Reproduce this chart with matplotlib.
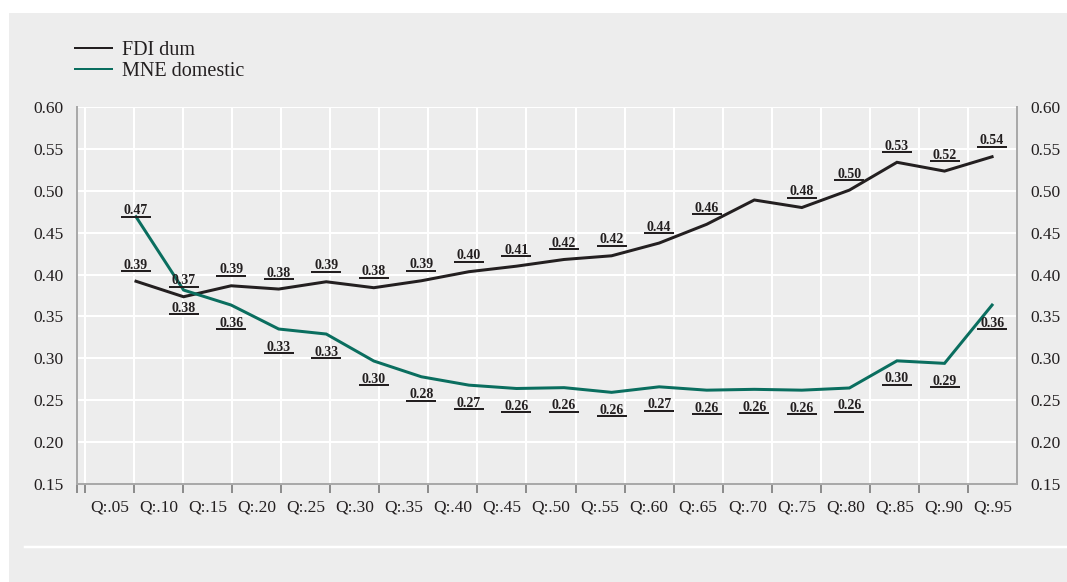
import matplotlib
matplotlib.use('Agg')
import matplotlib.pyplot as plt
from matplotlib.transforms import offset_copy
from matplotlib.patches import Rectangle
from matplotlib.lines import Line2D
import numpy as np

# ---------------- data ----------------
categories = ['Q:.05', 'Q:.10', 'Q:.15', 'Q:.20', 'Q:.25', 'Q:.30', 'Q:.35',
              'Q:.40', 'Q:.45', 'Q:.50', 'Q:.55', 'Q:.60', 'Q:.65', 'Q:.70',
              'Q:.75', 'Q:.80', 'Q:.85', 'Q:.90', 'Q:.95']
fdi_values = [0.392, 0.3735, 0.3866, 0.3827, 0.3914, 0.3843, 0.3926, 0.4034,
              0.410, 0.418, 0.4224, 0.4376, 0.460, 0.489, 0.480, 0.5008,
              0.534, 0.5235, 0.5406]
mne_values = [0.469, 0.3815, 0.3636, 0.335, 0.329, 0.2968, 0.278, 0.268,
              0.264, 0.265, 0.2594, 0.266, 0.262, 0.263, 0.262, 0.2646,
              0.297, 0.294, 0.3636]
fdi_labels = ['0.39', '0.37', '0.39', '0.38', '0.39', '0.38', '0.39', '0.40',
              '0.41', '0.42', '0.42', '0.44', '0.46', '', '0.48', '0.50',
              '0.53', '0.52', '0.54']
mne_labels = ['0.47', '0.38', '0.36', '0.33', '0.33', '0.30', '0.28', '0.27',
              '0.26', '0.26', '0.26', '0.27', '0.26', '0.26', '0.26', '0.26',
              '0.30', '0.29', '0.36']
series_names = ['FDI dum', 'MNE domestic']
y_ticks = [0.15, 0.20, 0.25, 0.30, 0.35, 0.40, 0.45, 0.50, 0.55, 0.60]

# ---------------- style ----------------
W, H = 1067, 582
DPI = 100
PT = 72.0 / DPI  # points per pixel
FONT = 'Liberation Serif'
BG = '#ededed'
DARK = '#231f20'
TEAL = '#0a6e5f'
AXIS = '#a9a9a9'

plt.rcParams['font.family'] = [FONT, 'DejaVu Serif']

fig = plt.figure(figsize=(W / DPI, H / DPI), dpi=DPI, facecolor='white')
fig.patches.append(Rectangle((9 / W, 0), 1 - 9 / W, 1 - 13 / H,
                             transform=fig.transFigure, facecolor=BG,
                             edgecolor='none', zorder=0))
fig.lines.append(Line2D([25 / W, 1], [1 - 547 / H, 1 - 547 / H],
                        transform=fig.transFigure, color='white',
                        lw=2.5 * PT, zorder=1))

rect = [77 / W, 1 - 484 / H, (1017 - 77) / W, (484 - 107) / H]

# category / grid axes
axc = fig.add_axes(rect, zorder=1)
axc.set_facecolor(BG)
n = len(categories)
axc.set_xlim(-0.663, n - 0.5)
axc.set_ylim(y_ticks[0], y_ticks[-1])
axc.set_xticks(np.arange(n))
axc.set_xticklabels(categories)
axc.set_xticks(np.concatenate([[-0.663], np.arange(-0.5, n - 0.5, 1)]), minor=True)
axc.tick_params(axis='x', which='major', length=0, pad=15 * PT,
                labelsize=12.5, labelcolor=DARK)
axc.tick_params(axis='x', which='minor', length=9 * PT, width=1.5 * PT,
                color='#6e6e6e', direction='out')
axc.set_yticks(y_ticks)
axc.set_yticklabels([f'{v:.2f}' for v in y_ticks])
axc.tick_params(axis='y', length=0, labelsize=12.5, labelcolor=DARK,
                left=False, right=False, labelleft=True, labelright=True,
                pad=13 * PT)
axc.grid(True, axis='y', color='white', lw=2 * PT)
axc.grid(True, axis='x', which='minor', color='white', lw=2 * PT)
axc.set_axisbelow(True)
for side in ['left', 'right', 'bottom']:
    axc.spines[side].set_color(AXIS)
    axc.spines[side].set_linewidth(2 * PT)
axc.spines['top'].set_visible(False)

# data axes
ax = fig.add_axes(rect, zorder=2)
ax.set_facecolor('none')
ax.set_xlim(-1.2405, 18.524)
ax.set_ylim(y_ticks[0], y_ticks[-1])
ax.axis('off')

x = np.arange(n)
ax.plot(x, fdi_values, color=DARK, lw=3 * PT, solid_joinstyle='miter')
ax.plot(x, mne_values, color=TEAL, lw=3 * PT, solid_joinstyle='miter')

LABEL_FS = 10


def put_label(i, v, s, text_off, line_off):
    if not s:
        return
    ax.annotate(s, (i, v), xytext=(0, text_off * PT), textcoords='offset points',
                ha='center', va='baseline', fontsize=LABEL_FS, fontweight='bold',
                color=DARK, clip_on=False)
    tr = offset_copy(ax.transData, fig=fig, x=0, y=line_off, units='dots')
    ax.plot([i], [v], marker='_', ms=30 * PT, mew=2 * PT, color=DARK,
            transform=tr, clip_on=False)


for i, (v, s) in enumerate(zip(fdi_values, fdi_labels)):
    put_label(i, v, s, 12.5, 10)
for i, (v, s) in enumerate(zip(mne_values, mne_labels)):
    if i == 0:
        # first label sits right on top of its point
        put_label(i, v, s, 2.5, 0)
    else:
        put_label(i, v, s, -21.5, -24)

handles = [Line2D([], [], color=DARK, lw=2 * PT),
           Line2D([], [], color=TEAL, lw=2 * PT)]
fig.legend(handles, series_names, loc='upper left',
           bbox_to_anchor=(75 / W, 1 - 41 / H), frameon=False, fontsize=14.5,
           handlelength=1.84, handletextpad=0.5, borderpad=0,
           borderaxespad=0, labelspacing=0.07, labelcolor=DARK)

fig.savefig('out.png', dpi=DPI, facecolor='white')
